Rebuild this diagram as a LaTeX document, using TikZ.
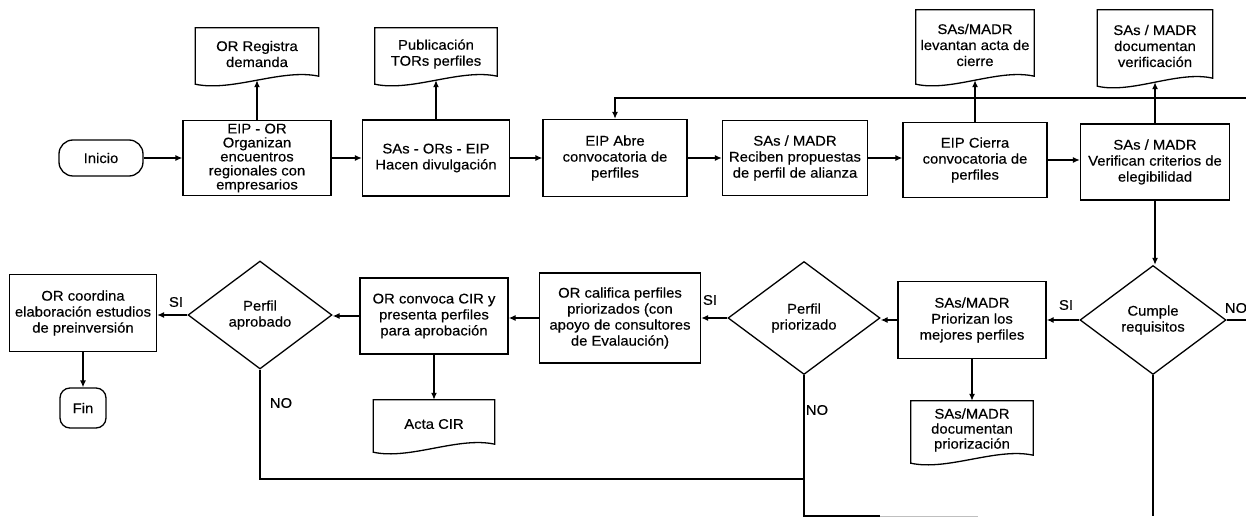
\documentclass[tikz,border=0pt]{standalone}
\usepackage{fontspec}
\setmainfont{Liberation Sans}[FakeStretch=1.06,FakeBold=0.4]
\usetikzlibrary{shapes.geometric,arrows.meta,calc}
\newcommand\fs{\fontsize{14}{16}\selectfont}
\newcommand\docframe[1]{%
  \draw[ln] ([yshift=-4pt]#1.south west) -- (#1.north west) -- (#1.north east) -- ([yshift=4pt]#1.south east)
  .. controls ($(#1.south west)!0.7!(#1.south east)+(0,-12)$) and ($(#1.south west)!0.3!(#1.south east)+(0,12)$) .. ([yshift=-4pt]#1.south west) -- cycle;}
\begin{document}
\begin{tikzpicture}[x=1pt,y=-1pt,
  ln/.style={line width=1.3pt},
  box/.style={draw, ln, rectangle, align=center, inner sep=1pt, font=\fs},
  dec/.style={draw, ln, diamond, align=center, inner sep=0pt, font=\fs},
  term/.style={draw, ln, rectangle, align=center, inner sep=1pt, font=\fs},
  doc/.style={rectangle, align=center, inner sep=1pt, font=\fs},
  arr/.style={ln, -{Latex[length=7pt,width=6pt]}},
  lbl/.style={font=\fs, inner sep=0pt}]
\useasboundingbox (0,0) rectangle (1246,518);
% top row
\node[term, rounded corners=14pt, minimum width=84pt, minimum height=36pt] (ini) at (101,158) {Inicio};
\node[box, minimum width=148pt, minimum height=75pt, font=\fontsize{14}{14}\selectfont] (eip1) at (257,158) {EIP - OR\\Organizan\\encuentros\\regionales con\\empresarios};
\node[box, minimum width=147pt, minimum height=76pt] (sas1) at (436,158) {SAs - ORs - EIP\\Hacen divulgación};
\node[box, minimum width=144pt, minimum height=77pt] (abre) at (615,158) {EIP Abre\\convocatoria de\\perfiles};
\node[box, minimum width=145pt, minimum height=75pt] (reciben) at (795,158) {SAs / MADR\\Reciben propuestas\\de perfil de alianza};
\node[box, minimum width=144pt, minimum height=75pt] (cierra) at (975,160) {EIP Cierra\\convocatoria de\\perfiles};
\node[box, minimum width=149pt, minimum height=76pt] (verif) at (1155,162) {SAs / MADR\\Verifican criterios de\\elegibilidad};
% documents top
\node[doc, minimum width=123pt, minimum height=52pt] (reg) at (257,54) {OR Registra\\demanda};
\docframe{reg}
\node[doc, minimum width=122pt, minimum height=52pt] (pub) at (436,54) {Publicación\\TORs perfiles};
\docframe{pub}
\node[doc, minimum width=118pt, minimum height=70pt] (lev) at (975,45) {SAs/MADR\\levantan acta de\\cierre};
\docframe{lev}
\node[doc, minimum width=115pt, minimum height=72pt] (docver) at (1155,46) {SAs / MADR\\documentan\\verificación};
\docframe{docver}
% bottom row
\node[dec, minimum width=146pt, minimum height=109pt] (cumple) at (1153,320) {Cumple\\requisitos};
\node[box, minimum width=148pt, minimum height=77pt] (prior) at (972,320) {SAs/MADR\\Priorizan los\\mejores perfiles};
\node[doc, minimum width=122pt, minimum height=58pt, font=\fontsize{14}{15}\selectfont] (docprior) at (972,430) {SAs/MADR\\documentan\\priorización};
\docframe{docprior}
\node[dec, minimum width=152pt, minimum height=113pt] (perfpri) at (804,318) {Perfil\\priorizado};
\node[box, minimum width=161pt, minimum height=90pt] (calif) at (620,318) {OR califica perfiles\\priorizados (con\\apoyo de consultores\\de Evalaución)};
\node[box, minimum width=148pt, minimum height=76pt] (convoca) at (434,316) {OR convoca CIR y\\presenta perfiles\\para aprobación};
\node[doc, minimum width=121pt, minimum height=48pt] (acta) at (434,424) {Acta CIR};
\docframe{acta}
\node[dec, minimum width=144pt, minimum height=108pt] (perfapr) at (260,315) {Perfil\\aprobado};
\node[box, minimum width=147pt, minimum height=77pt] (coord) at (83,313) {OR coordina\\elaboración estudios\\de preinversión};
\node[term, rounded corners=10pt, minimum width=46pt, minimum height=40pt] (fin) at (83,408) {Fin};
% connectors top
\draw[arr] (ini.east) -- (ini.east -| eip1.west);
\draw[arr] (eip1.north) -- (reg.south);
\draw[arr] (eip1.east) -- (eip1.east -| sas1.west);
\draw[arr] (sas1.north) -- (pub.south);
\draw[arr] (sas1.east) -- (sas1.east -| abre.west);
\draw[arr] (abre.east) -- (abre.east -| reciben.west);
\draw[arr] (reciben.east) -- (reciben.east -| cierra.west);
\draw[arr] (cierra.east) -- (cierra.east -| verif.west);
\draw[arr] (cierra.north) -- (lev.south);
\draw[arr] (verif.north) -- (docver.south);
\coordinate (loopR) at (1246,98);
\draw[arr] (loopR) -| (abre.north);
\draw[arr] (verif.south) -- (verif.south |- cumple.north);
% connectors bottom
\draw[arr] (cumple.west) -- (cumple.west -| prior.east);
\draw[arr] (prior.south) -- (docprior.north);
\draw[arr] (prior.west) -- (prior.west -| perfpri.east);
\draw[arr] (perfpri.west) -- (perfpri.west -| calif.east);
\draw[arr] (calif.west) -- (calif.west -| convoca.east);
\draw[arr] (convoca.west) -- (convoca.west -| perfapr.east);
\draw[arr] (convoca.south) -- (acta.north);
\draw[arr] (perfapr.west) -- (perfapr.west -| coord.east);
\draw[arr] (coord.south) -- (fin.north);
\coordinate (noR) at (1246,320);
\draw[ln] (cumple.east) -- (noR);
\coordinate (aprD) at (260,479);
\coordinate (priD) at (804,516);
\coordinate (priE) at (880,516);
\coordinate (cumD) at (1153,516);
\draw[ln] (perfapr.south) -- (aprD) -- (aprD -| perfpri.south);
\draw[ln] (perfpri.south) -- (priD) -- (priE);
\draw[line width=0.8pt, black!25] (priE) -- (978,516);
\draw[ln] (cumple.south) -- (cumD);
% labels
\node[lbl] (l1) at (176,302) {SI};
\node[lbl] (l2) at (281,403) {NO};
\node[lbl] (l3) at (710,300) {SI};
\node[lbl] (l4) at (817,410) {NO};
\node[lbl] (l5) at (1066,305) {SI};
\node[lbl] (l6) at (1236,308) {NO};
\end{tikzpicture}
\end{document}
